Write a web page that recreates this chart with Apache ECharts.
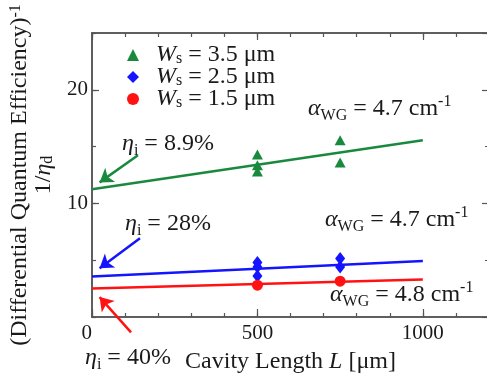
<!DOCTYPE html>
<html>
<head>
<meta charset="utf-8">
<script src="https://cdn.jsdelivr.net/npm/echarts@6/dist/echarts.min.js"></script>
<style>
  html, body { margin: 0; padding: 0; background: #fff; }
  #chart { width: 487px; height: 380px; }
</style>
</head>
<body>
<div id="chart"></div>
<script>
// Measured 1/eta_d versus cavity length L (um) for three stripe widths
const ws35 = [[500, 14.3], [500, 13.35], [500, 12.8], [750, 15.55], [750, 13.6]];
const ws25 = [[500, 4.8], [500, 4.4], [500, 3.6], [750, 5.15], [750, 4.4]];
const ws15 = [[500, 2.8], [750, 3.15]];

const etaInternal = [0.089, 0.28, 0.40];
const fitAt1000 = [15.55, 4.93, 3.3];
const fitLength = 1000;

const seriesNames = ['Ws = 3.5 μm', 'Ws = 2.5 μm', 'Ws = 1.5 μm'];
const legendLabels = ['{it|W}{sub|s}{t| = 3.5 μm}', '{it|W}{sub|s}{t| = 2.5 μm}', '{it|W}{sub|s}{t| = 1.5 μm}'];
const etaLabels = ['8.9%', '28%', '40%'];
const alphaLabels = ['4.7', '4.7', '4.8'];

// Arrow tails and heads in data coordinates (L, 1/eta_d)
const arrowPaths = [
  [[139, 14.23], [23, 11.85]],
  [[145, 6.93], [23, 4.3]],
  [[118, -1.35], [23, 1.75]]
];

const xMajor = 500, xMinor = 100, xMax = 1200;
const yMajor = 10, yMinor = 5, yMax = 25;

const colors = ['#198a3d', '#1414ff', '#ff1212'];
const symbols = ['triangle', 'diamond', 'circle'];
const symbolSizes = [[11, 10], [10, 13], 11];
const scatterData = [ws35, ws25, ws15];

const FONT = 'Liberation Serif';
const INK = '#1a1a1a';
const AXIS_COLOR = '#555';

// rich text pieces: main text, italic symbol, subscript and superscript
function makeRich(size, lineHeight, subSize, shiftHeight) {
  return {
    t: { fontFamily: FONT, fontSize: size, color: INK, lineHeight: lineHeight },
    it: { fontFamily: FONT, fontSize: size, fontStyle: 'italic', color: INK, lineHeight: lineHeight },
    sub: { fontFamily: FONT, fontSize: subSize, color: INK, lineHeight: shiftHeight, verticalAlign: 'bottom' },
    sup: { fontFamily: FONT, fontSize: subSize, color: INK, lineHeight: shiftHeight, verticalAlign: 'top' }
  };
}
const richText = makeRich(24, 30, 16, 8);
const richAxis = makeRich(24, 24, 16, 4);
const richLegend = makeRich(24, 24, 16, 3);
richLegend.it.padding = [0, 0, 0, 12];

function xAxisDef(position, interval, len, withLabels) {
  return {
    type: 'value', position: position, min: 0, max: xMax, interval: interval,
    axisLine: { show: true, onZero: false, lineStyle: { color: AXIS_COLOR, width: 1.5 } },
    axisTick: { show: true, inside: true, length: len, lineStyle: { color: AXIS_COLOR, width: 1.2 } },
    axisLabel: withLabels ? {
      show: true, margin: 6, fontFamily: FONT, fontSize: 21, color: INK,
      showMaxLabel: false, alignMinLabel: 'right',
      formatter: function (v) { return String(v); }
    } : { show: false },
    splitLine: { show: false }
  };
}

function yAxisDef(position, interval, len, withLabels) {
  return {
    type: 'value', position: position, min: 0, max: yMax, interval: interval,
    axisLine: { show: true, onZero: false, lineStyle: { color: AXIS_COLOR, width: 1.5 } },
    axisTick: { show: true, inside: true, length: len, lineStyle: { color: AXIS_COLOR, width: 1.2 } },
    axisLabel: withLabels ? {
      show: true, margin: 4, fontFamily: FONT, fontSize: 21, color: INK,
      showMinLabel: false, showMaxLabel: false
    } : { show: false },
    splitLine: { show: false }
  };
}

const xAxes = [
  xAxisDef('bottom', xMajor, 8, true),
  xAxisDef('bottom', xMinor, 4, false),
  xAxisDef('top', xMajor, 7, false),
  xAxisDef('top', xMinor, 4, false)
];
Object.assign(xAxes[0], {
  name: '{t|Cavity Length }{it|L}{t| [μm]}',
  nameLocation: 'middle',
  nameGap: 33,
  nameTextStyle: { fontFamily: FONT, fontSize: 24, color: INK, rich: richAxis }
});

const yAxes = [
  yAxisDef('left', yMajor, 7, true),
  yAxisDef('left', yMinor, 4, false),
  yAxisDef('right', yMajor, 7, false),
  yAxisDef('right', yMinor, 4, false)
];
Object.assign(yAxes[0], {
  name: '{t|(Differential Quantum Efficiency)}{sup|-1}\n{t|1/}{it|η}{sub|d}',
  nameLocation: 'middle',
  nameRotate: 90,
  nameGap: 28,
  nameTextStyle: { fontFamily: FONT, fontSize: 24, color: INK, rich: richAxis }
});

const series = [];
etaInternal.forEach(function (eta, i) {
  series.push({
    name: 'fit ' + i,
    type: 'line',
    data: [[0, 1 / eta], [fitLength, fitAt1000[i]]],
    showSymbol: false,
    symbol: 'none',
    lineStyle: { color: colors[i], width: 2.5 },
    itemStyle: { color: colors[i] },
    z: 2,
    silent: true
  });
});
scatterData.forEach(function (d, i) {
  series.push({
    name: seriesNames[i],
    type: 'scatter',
    data: d,
    symbol: symbols[i],
    symbolSize: symbolSizes[i],
    itemStyle: { color: colors[i], opacity: 1 },
    z: 3
  });
});
series.push({
  name: 'arrows',
  type: 'lines',
  coordinateSystem: 'cartesian2d',
  clip: false,
  symbol: ['none', 'arrow'],
  symbolSize: [10, 13],
  lineStyle: { width: 2.5, opacity: 1, curveness: 0 },
  data: arrowPaths.map(function (p, i) {
    return { coords: p, lineStyle: { color: colors[i] } };
  }),
  z: 4
});

function annotation(x, y, text) {
  return {
    type: 'text', x: x, y: y, z: 10,
    style: {
      text: text, fontFamily: FONT, fontSize: 24, fill: INK,
      verticalAlign: 'middle', align: 'left', rich: richText
    }
  };
}

const etaPos = [[122, 144], [125, 224], [85, 358]];
const alphaPos = [[308, 109], [325, 220], [330, 295]];
const graphics = [];
etaLabels.forEach(function (v, i) {
  graphics.push(annotation(etaPos[i][0], etaPos[i][1], '{it|η}{sub|i}{t| = ' + v + '}'));
});
alphaLabels.forEach(function (v, i) {
  graphics.push(annotation(alphaPos[i][0], alphaPos[i][1], '{it|α}{sub|WG}{t| = ' + v + ' cm}{sup|-1}'));
});

const chart = echarts.init(document.getElementById('chart'), null, { renderer: 'canvas' });
chart.setOption({
  backgroundColor: '#fff',
  animation: false,
  grid: { left: 92, width: 397, top: 33, height: 284, outerBoundsMode: 'none', containLabel: false },
  xAxis: xAxes,
  yAxis: yAxes,
  legend: {
    data: seriesNames,
    orient: 'vertical',
    left: 122,
    top: 38,
    itemWidth: 12,
    itemHeight: 12,
    itemGap: -2,
    selectedMode: false,
    formatter: function (name) { return legendLabels[seriesNames.indexOf(name)]; },
    textStyle: { fontFamily: FONT, fontSize: 24, color: INK, rich: richLegend }
  },
  graphic: graphics,
  series: series
});
</script>
</body>
</html>
